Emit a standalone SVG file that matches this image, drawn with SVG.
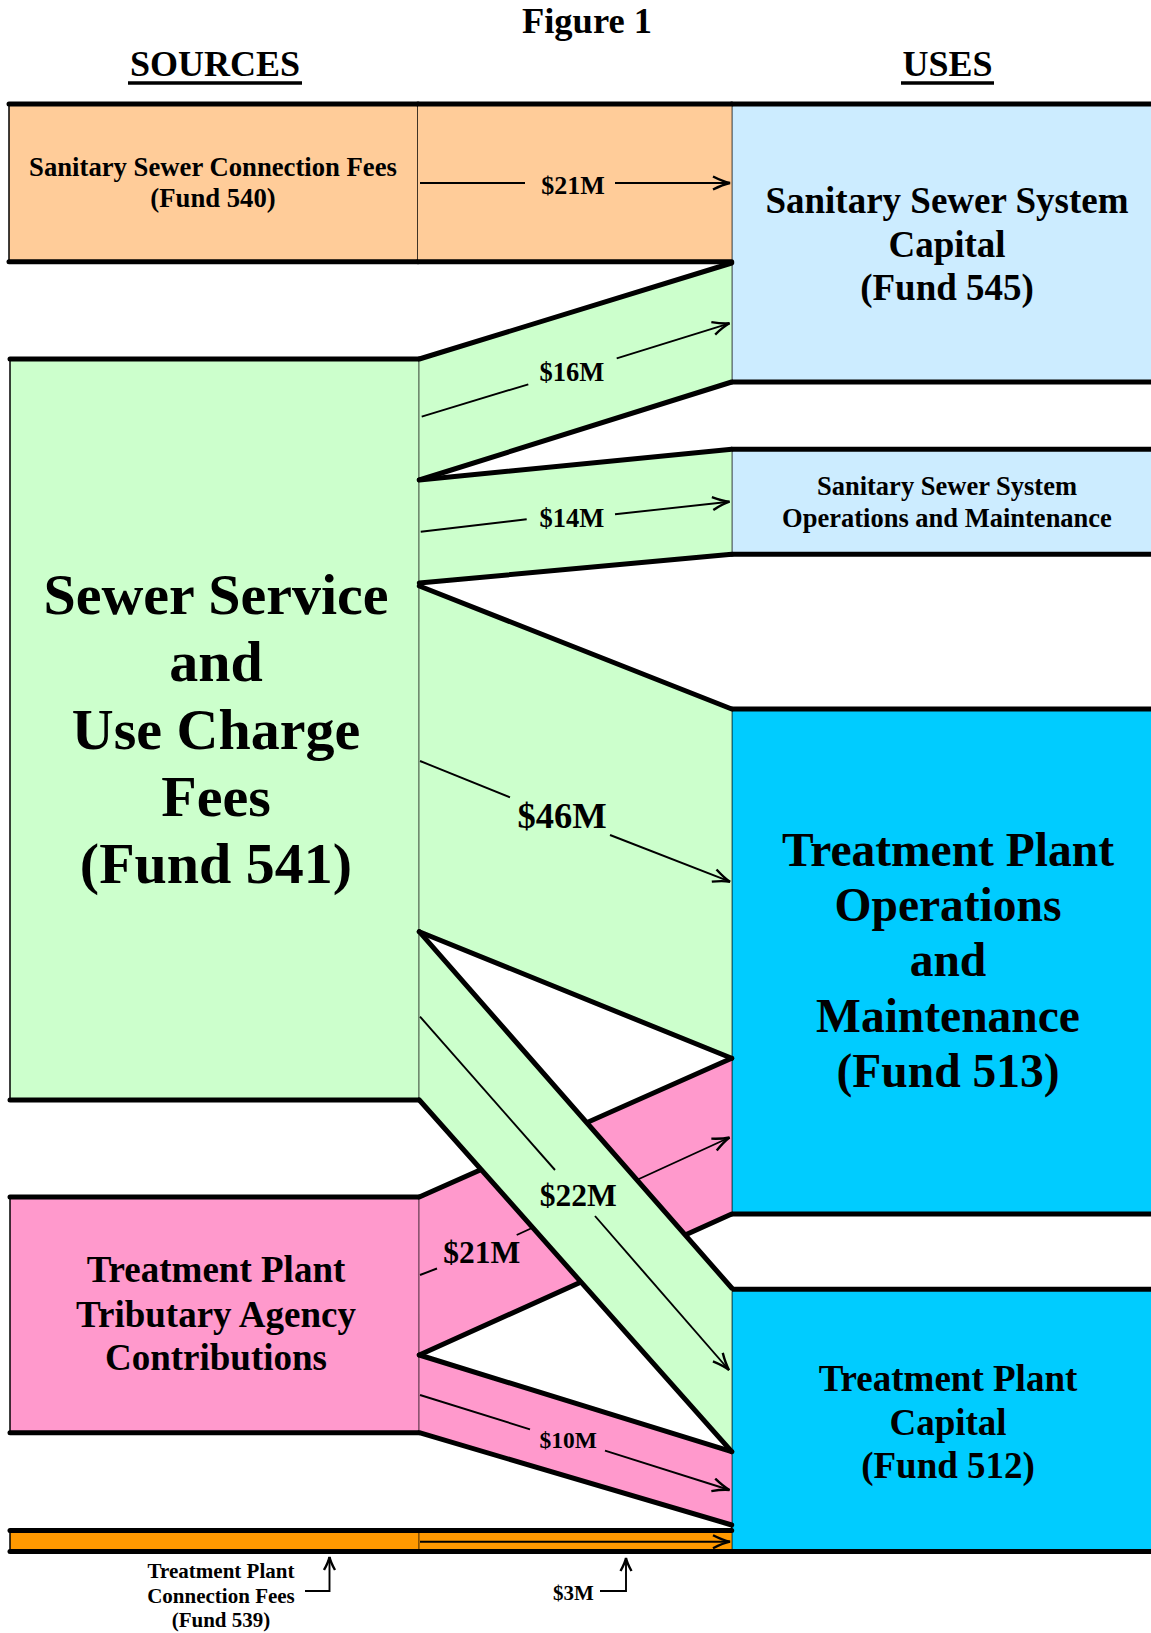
<svg xmlns="http://www.w3.org/2000/svg" width="1151" height="1633" viewBox="0 0 1151 1633">
<defs>
<style>
text{font-family:"Liberation Serif","Times New Roman",serif;font-weight:bold;fill:#000;text-anchor:middle}
.thick{stroke:#000;stroke-width:5;stroke-linecap:round;fill:none}
.thin{stroke:#000;stroke-width:1.5;fill:none}
.arr{stroke:#000;stroke-width:1.9;fill:none}
.peach{fill:#FFCC99}
.lblue{fill:#CCECFF}
.green{fill:#CCFFCC}
.cyan{fill:#00CCFF}
.pink{fill:#FF99CC}
.orange{fill:#FF9900}
</style>
<marker id="ah" markerUnits="userSpaceOnUse" markerWidth="24" markerHeight="16" viewBox="-20 -8 22 16" refX="0" refY="0" orient="auto">
<path d="M-17,-6.5 Q-7,-1.5 0,0 Q-7,1.5 -17,6.5" fill="none" stroke="#000" stroke-width="2.4"/>
</marker>
<marker id="ahs" markerUnits="userSpaceOnUse" markerWidth="20" markerHeight="14" viewBox="-16 -7 18 14" refX="0" refY="0" orient="auto">
<path d="M-13,-5.5 Q-5,-1 0,0 Q-5,1 -13,5.5" fill="none" stroke="#000" stroke-width="2.4"/>
</marker>
</defs>
<rect width="1151" height="1633" fill="#fff"/>

<g id="title">
<text x="587" y="33" font-size="36.5">Figure 1</text>
<text x="215" y="76" font-size="36">SOURCES</text>
<line x1="128" y1="83" x2="302" y2="83" stroke="#000" stroke-width="3.5"/>
<text x="947.5" y="76" font-size="36">USES</text>
<line x1="901" y1="83" x2="994" y2="83" stroke="#000" stroke-width="3.5"/>
</g>

<g id="src-fund540">
<rect x="9" y="104" width="409" height="157.7" class="peach"/>
<line x1="9" y1="104" x2="9" y2="261.7" class="thin"/>
<line x1="418" y1="104" x2="418" y2="261.7" class="thin"/>
<line x1="9" y1="104" x2="418" y2="104" class="thick"/>
<line x1="9" y1="261.7" x2="418" y2="261.7" class="thick"/>
<text x="213" y="176" font-size="26.7">Sanitary Sewer Connection Fees</text>
<text x="213" y="207" font-size="26.7">(Fund 540)</text>
</g>

<g id="use-fund545">
<rect x="731.7" y="104" width="419.3" height="278" class="lblue"/>
<line x1="731.7" y1="104" x2="731.7" y2="382" class="thin"/>
<line x1="731.7" y1="104" x2="1151" y2="104" class="thick"/>
<line x1="731.7" y1="382" x2="1151" y2="382" class="thick"/>
<text x="947" y="213" font-size="37">Sanitary Sewer System</text>
<text x="947" y="257" font-size="37">Capital</text>
<text x="947" y="300" font-size="37">(Fund 545)</text>
</g>

<g id="src-fund541">
<rect x="10" y="359" width="409.3" height="741" class="green"/>
<line x1="10" y1="359" x2="10" y2="1100" class="thin"/>
<line x1="419.3" y1="359" x2="419.3" y2="1100" class="thin"/>
<line x1="10" y1="359" x2="419.3" y2="359" class="thick"/>
<line x1="10" y1="1100" x2="419.3" y2="1100" class="thick"/>
<text x="216" y="614" font-size="58">Sewer Service</text>
<text x="216" y="681" font-size="58">and</text>
<text x="216" y="749" font-size="58">Use Charge</text>
<text x="216" y="816" font-size="58">Fees</text>
<text x="216" y="883" font-size="58">(Fund 541)</text>
</g>

<g id="use-sss-om">
<rect x="731.7" y="449.3" width="419.3" height="105" class="lblue"/>
<line x1="731.7" y1="449.3" x2="731.7" y2="554.3" class="thin"/>
<line x1="731.7" y1="449.3" x2="1151" y2="449.3" class="thick"/>
<line x1="731.7" y1="554.3" x2="1151" y2="554.3" class="thick"/>
<text x="947" y="495" font-size="26.5">Sanitary Sewer System</text>
<text x="947" y="526.7" font-size="26.5">Operations and Maintenance</text>
</g>

<g id="use-fund513">
<rect x="731.7" y="709" width="419.3" height="505" class="cyan"/>
<line x1="731.7" y1="709" x2="731.7" y2="1214" class="thin"/>
<line x1="731.7" y1="709" x2="1151" y2="709" class="thick"/>
<line x1="731.7" y1="1214" x2="1151" y2="1214" class="thick"/>
<text x="948" y="866" font-size="47.5">Treatment Plant</text>
<text x="948" y="921" font-size="47.5">Operations</text>
<text x="948" y="976" font-size="47.5">and</text>
<text x="948" y="1031.5" font-size="47.5">Maintenance</text>
<text x="948" y="1087" font-size="47.5">(Fund 513)</text>
</g>

<g id="src-tributary">
<rect x="10" y="1197" width="409.3" height="235.7" class="pink"/>
<line x1="10" y1="1197" x2="10" y2="1432.7" class="thin"/>
<line x1="419.3" y1="1197" x2="419.3" y2="1432.7" class="thin"/>
<line x1="10" y1="1197" x2="419.3" y2="1197" class="thick"/>
<line x1="10" y1="1432.7" x2="419.3" y2="1432.7" class="thick"/>
<text x="216" y="1282.3" font-size="37">Treatment Plant</text>
<text x="216" y="1326.7" font-size="37">Tributary Agency</text>
<text x="216" y="1370" font-size="37">Contributions</text>
</g>

<g id="use-fund512">
<rect x="731.7" y="1289.3" width="419.3" height="262.2" class="cyan"/>
<line x1="731.7" y1="1289.3" x2="731.7" y2="1551.5" class="thin"/>
<line x1="731.7" y1="1289.3" x2="1151" y2="1289.3" class="thick"/>
<line x1="731.7" y1="1551.5" x2="1151" y2="1551.5" class="thick"/>
<text x="948" y="1390.7" font-size="37">Treatment Plant</text>
<text x="948" y="1435.3" font-size="37">Capital</text>
<text x="948" y="1478.3" font-size="37">(Fund 512)</text>
</g>

<g id="src-fund539">
<rect x="10" y="1530.5" width="409.3" height="21" class="orange"/>
<line x1="10" y1="1530.5" x2="10" y2="1551.5" class="thin"/>
<line x1="419.3" y1="1530.5" x2="419.3" y2="1551.5" class="thin"/>
<line x1="10" y1="1530.5" x2="419.3" y2="1530.5" class="thick"/>
<line x1="10" y1="1551.5" x2="419.3" y2="1551.5" class="thick"/>
<text x="221" y="1578" font-size="21">Treatment Plant</text>
<text x="221" y="1603" font-size="21">Connection Fees</text>
<text x="221" y="1627" font-size="21">(Fund 539)</text>
<polyline points="305,1591 329.5,1591 329.5,1557" class="arr" stroke-width="2.4" marker-end="url(#ahs)"/>
</g>

<g id="connectors">
<rect x="418" y="104" width="313.7" height="157.7" class="peach"/>
<line x1="418" y1="104" x2="731.7" y2="104" class="thick"/>
<line x1="418" y1="261.7" x2="731.7" y2="261.7" class="thick"/>
<line x1="420" y1="183" x2="525" y2="183" class="arr"/>
<line x1="615" y1="183" x2="730" y2="183" class="arr" marker-end="url(#ah)"/>
<text x="573" y="194" font-size="26">$21M</text>

<polygon points="419.3,359 731.7,263 731.7,382 419.3,480" class="green"/>
<line x1="419.3" y1="359" x2="731.7" y2="263" class="thick"/>
<line x1="419.3" y1="480" x2="731.7" y2="382" class="thick"/>
<line x1="421.7" y1="416.7" x2="528.3" y2="384.3" class="arr"/>
<line x1="616.7" y1="358.3" x2="729.5" y2="323.3" class="arr" marker-end="url(#ah)"/>
<text x="572" y="380.5" font-size="26.5">$16M</text>

<polygon points="419.3,480 731.7,449.3 731.7,554.3 419.3,583" class="green"/>
<line x1="419.3" y1="480" x2="731.7" y2="449.3" class="thick"/>
<line x1="419.3" y1="583" x2="731.7" y2="554.3" class="thick"/>
<line x1="420.7" y1="531.7" x2="526.7" y2="519.3" class="arr"/>
<line x1="615" y1="514.3" x2="729.5" y2="501.7" class="arr" marker-end="url(#ah)"/>
<text x="572" y="527" font-size="26.5">$14M</text>

<polygon points="419.3,586 731.7,709 731.7,1058.3 419.3,931.7" class="green"/>
<line x1="419.3" y1="586" x2="731.7" y2="709" class="thick"/>
<line x1="419.3" y1="931.7" x2="731.7" y2="1058.3" class="thick"/>
<line x1="420" y1="761" x2="510" y2="797.3" class="arr" stroke-width="2.1"/>
<line x1="610" y1="835" x2="730" y2="881.7" class="arr" stroke-width="2.1" marker-end="url(#ah)"/>
<text x="562" y="828" font-size="36.5">$46M</text>

<polygon points="419.3,1197 731.7,1058.3 731.7,1214 419.3,1355" class="pink"/>
<line x1="419.3" y1="1197" x2="731.7" y2="1058.3" class="thick"/>
<line x1="419.3" y1="1355" x2="731.7" y2="1214" class="thick"/>
<line x1="420" y1="1275" x2="437" y2="1268.5" class="arr"/>
<line x1="516.7" y1="1235" x2="729.5" y2="1137.5" class="arr" marker-end="url(#ah)"/>

<polygon points="419.3,1355 731.7,1451.7 731.7,1525 419.3,1432.7" class="pink"/>
<line x1="419.3" y1="1355" x2="731.7" y2="1451.7" class="thick"/>
<line x1="419.3" y1="1432.7" x2="731.7" y2="1525" class="thick"/>
<line x1="420" y1="1395" x2="530" y2="1429.3" class="arr"/>
<line x1="605" y1="1450.7" x2="729.5" y2="1490" class="arr" marker-end="url(#ah)"/>
<text x="568.3" y="1448" font-size="23.5">$10M</text>

<polygon points="419.3,931.7 731.7,1288 731.7,1451.7 419.3,1100" class="green"/>
<line x1="419.3" y1="931.7" x2="731.7" y2="1288" class="thick"/>
<line x1="419.3" y1="1100" x2="731.7" y2="1451.7" class="thick"/>
<line x1="420" y1="1016.7" x2="555" y2="1170" class="arr"/>
<line x1="595" y1="1216" x2="729" y2="1370" class="arr" marker-end="url(#ah)"/>
<text x="578.3" y="1206" font-size="31.5">$22M</text>
<text x="481.7" y="1263" font-size="31.5">$21M</text>

<rect x="419.3" y="1530.5" width="312.4" height="21" class="orange"/>
<line x1="419.3" y1="1530.5" x2="731.7" y2="1530.5" class="thick"/>
<line x1="419.3" y1="1551.5" x2="731.7" y2="1551.5" class="thick"/>
<line x1="420" y1="1541.7" x2="730" y2="1541.7" class="arr" marker-end="url(#ah)"/>
<text x="573.5" y="1600" font-size="21">$3M</text>
<polyline points="600,1591 626,1591 626,1558" class="arr" stroke-width="2.4" marker-end="url(#ahs)"/>
</g>
</svg>
